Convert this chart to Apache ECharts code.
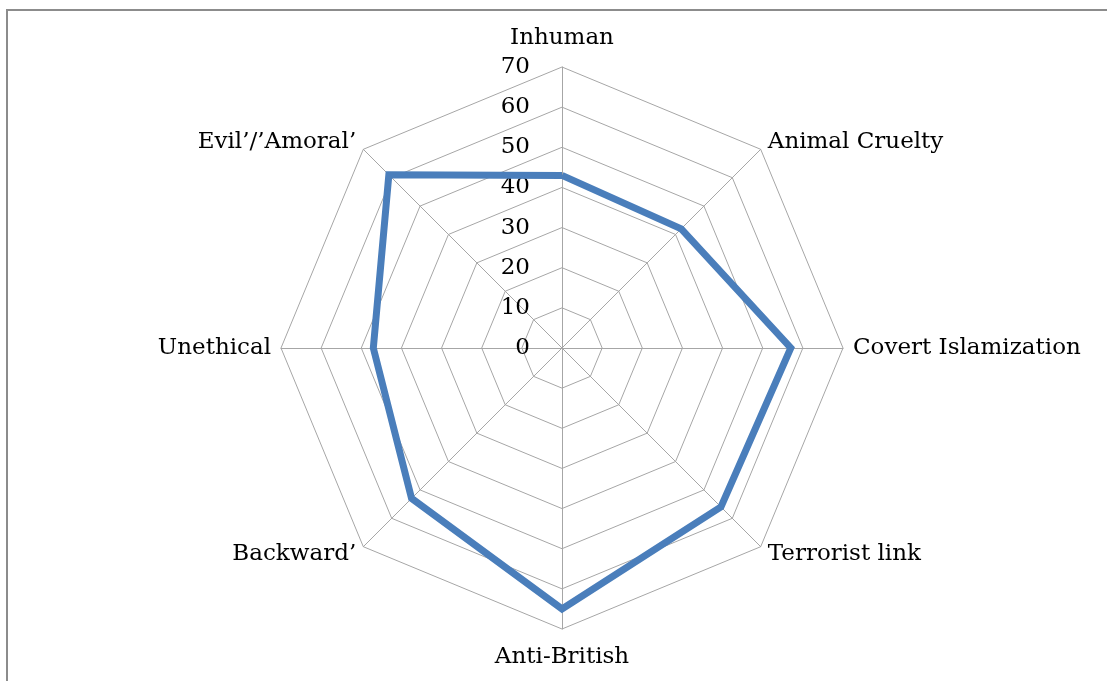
<!DOCTYPE html>
<html>
<head>
<meta charset="utf-8">
<script src="https://cdn.jsdelivr.net/npm/echarts@6/dist/echarts.min.js"></script>
<style>
  html, body { margin: 0; padding: 0; background: #fff; }
  #frame { position: absolute; left: 6px; top: 9px; width: 1200px; height: 800px;
           border-left: 2px solid #8c8c8c; border-top: 2px solid #8c8c8c; box-sizing: border-box; }
  #chart { position: absolute; left: 0; top: 0; width: 1107px; height: 681px; }
</style>
</head>
<body>
<div id="frame"></div>
<div id="chart"></div>
<script>
// Categories listed clockwise from the top
const categories = ['Inhuman', 'Animal Cruelty', 'Covert Islamization', 'Terrorist link',
                    'Anti-British', 'Backward\u2019', 'Unethical', 'Evil\u2019/\u2019Amoral\u2019'];
const values = [43, 42, 57, 56, 65, 53, 47, 61];
const axisMax = 70;
const axisStep = 10;

// ECharts lays radar indicators out counter-clockwise, so walk the list backwards after the first one
const order = [0].concat(categories.map((_, i) => i).slice(1).reverse());

const indicator = order.map((idx, k) => ({
  name: categories[idx],
  min: 0,
  max: axisMax,
  // names straight above / below the centre sit a little further out
  nameGap: (idx === 0 || idx === 4) ? 17 : 10,
  axisLabel: { show: k === 0 }
}));
const seriesData = order.map(idx => values[idx]);

const chart = echarts.init(document.getElementById('chart'));
chart.setOption({
  animation: false,
  radar: {
    center: [562, 348],
    radius: 281,
    startAngle: 90,
    shape: 'polygon',
    splitNumber: axisMax / axisStep,
    indicator: indicator,
    axisName: {
      color: '#000',
      fontFamily: 'DejaVu Serif',
      fontSize: 23
    },
    nameGap: 10,
    axisLine: { lineStyle: { color: '#a6a6a6', width: 1 } },
    splitLine: { lineStyle: { color: '#a6a6a6', width: 1 } },
    splitArea: { show: false },
    axisTick: { show: false },
    axisLabel: {
      show: false,
      color: '#000',
      fontFamily: 'DejaVu Serif',
      fontSize: 23,
      margin: 32
    }
  },
  series: [{
    type: 'radar',
    symbol: 'none',
    lineStyle: { color: '#4a7ebb', width: 7, join: 'miter' },
    data: [{ value: seriesData }]
  }]
});
</script>
</body>
</html>
